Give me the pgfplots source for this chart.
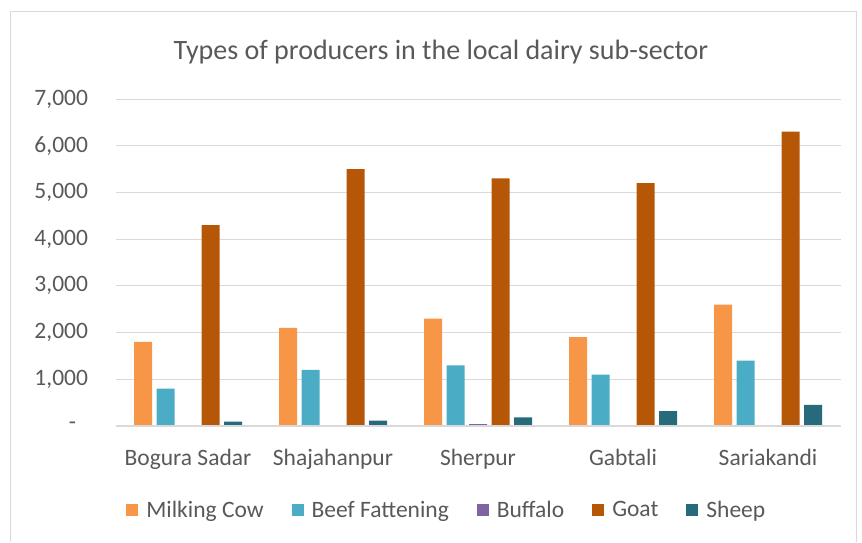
\documentclass[border=0pt]{standalone}
\usepackage{pgfplots}
\pgfplotsset{compat=1.18}
\usepackage{fontspec}
\setmainfont{Carlito}
\definecolor{cMilk}{HTML}{F79646}
\definecolor{cBeef}{HTML}{4BACC6}
\definecolor{cBuf}{HTML}{8064A2}
\definecolor{cGoat}{HTML}{B65708}
\definecolor{cSheep}{HTML}{276A7C}
\definecolor{txt}{HTML}{595959}
\definecolor{grd}{HTML}{D9D9D9}
\begin{document}
\begin{tikzpicture}[x=1pt,y=1pt]
\useasboundingbox (0,0) rectangle (862,542);
\draw[grd,line width=1pt] (10,0)--(10,530)--(856,530)--(856,0);
\node[text=txt,font=\fontsize{28}{32}\selectfont] at (441,490) {Types of producers in the local dairy sub-sector};
\begin{axis}[
  at={(115.5pt,116pt)}, anchor=south west,
  scale only axis, width=725pt, height=327pt,
  xmin=-0.5, xmax=4.5, ymin=0, ymax=7000,
  ybar=4.5pt, bar width=18pt,
  xtick={0,1,2,3,4},
  xticklabels={Bogura Sadar,Shajahanpur,Sherpur,Gabtali,Sariakandi},
  ytick={0,1000,2000,3000,4000,5000,6000,7000},
  yticklabels={{-\hspace*{12pt}},{1,000},{2,000},{3,000},{4,000},{5,000},{6,000},{7,000}},
  tick style={draw=none},
  axis line style={draw=none},
  ymajorgrids, grid style={grd,line width=1pt},
  ticklabel style={text=txt,font=\fontsize{23.5}{26}\selectfont},
  yticklabel style={xshift=-24pt},
  xticklabel style={yshift=-15pt},
  legend columns=-1,
  legend style={draw=none, at={(0.457,-0.257)}, anchor=center,
    font=\fontsize{23.5}{26}\selectfont, text=txt,
    /tikz/every even column/.append style={column sep=26pt},
    /tikz/every odd column/.append style={column sep=6pt}},
  legend image code/.code={\fill[#1] (0pt,-6pt) rectangle (12pt,6pt);},
]
\addplot[fill=cMilk,draw=none] coordinates {(0,1800) (1,2100) (2,2300) (3,1900) (4,2600)};
\addplot[fill=cBeef,draw=none] coordinates {(0,800) (1,1200) (2,1300) (3,1100) (4,1400)};
\addplot[fill=cBuf,draw=none] coordinates {(0,0) (1,20) (2,40) (3,20) (4,0)};
\addplot[fill=cGoat,draw=none] coordinates {(0,4300) (1,5500) (2,5300) (3,5200) (4,6300)};
\addplot[fill=cSheep,draw=none] coordinates {(0,95) (1,115) (2,186) (3,320) (4,450)};
\legend{Milking Cow,Beef Fattening,Buffalo,Goat,Sheep}
\draw[grd,line width=1.5pt] (rel axis cs:0,0) -- (rel axis cs:1,0);
\end{axis}
\end{tikzpicture}
\end{document}
